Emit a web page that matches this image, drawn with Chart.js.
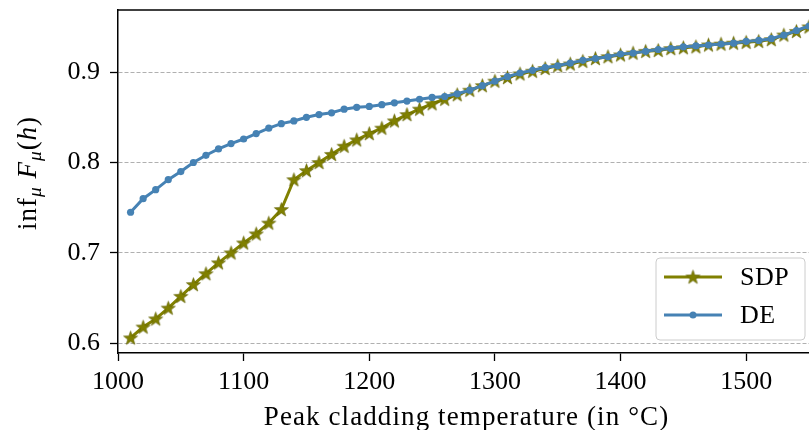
<!DOCTYPE html>
<html>
<head>
<meta charset="utf-8">
<script src="https://cdn.jsdelivr.net/npm/chart.js@4.4.1/dist/chart.umd.min.js"></script>
<style>
  html, body { margin: 0; padding: 0; background: #ffffff; }
  #wrap { width: 809px; height: 430px; position: relative; }
</style>
</head>
<body>
<div id="wrap"><canvas id="c" width="809" height="430"></canvas></div>
<script>
// ---- data ----
const temperatures = [1010, 1020, 1030, 1040, 1050, 1060, 1070, 1080, 1090, 1100,
  1110, 1120, 1130, 1140, 1150, 1160, 1170, 1180, 1190, 1200,
  1210, 1220, 1230, 1240, 1250, 1260, 1270, 1280, 1290, 1300,
  1310, 1320, 1330, 1340, 1350, 1360, 1370, 1380, 1390, 1400,
  1410, 1420, 1430, 1440, 1450, 1460, 1470, 1480, 1490, 1500,
  1510, 1520, 1530, 1540, 1550];

const sdpValues = [0.606, 0.618, 0.627, 0.639, 0.652, 0.665, 0.677, 0.689, 0.700, 0.711,
  0.721, 0.733, 0.748, 0.781, 0.791, 0.800, 0.809, 0.818, 0.825, 0.832,
  0.838, 0.846, 0.853, 0.859, 0.865, 0.870, 0.875, 0.880, 0.885, 0.890,
  0.894, 0.898, 0.901, 0.904, 0.907, 0.909, 0.912, 0.915, 0.917, 0.919,
  0.921, 0.923, 0.924, 0.926, 0.927, 0.928, 0.930, 0.931, 0.932, 0.933,
  0.934, 0.936, 0.941, 0.945, 0.950];

const deValues = [0.745, 0.760, 0.770, 0.781, 0.790, 0.800, 0.808, 0.815, 0.821, 0.826,
  0.832, 0.838, 0.843, 0.846, 0.850, 0.853, 0.855, 0.859, 0.861, 0.862,
  0.864, 0.866, 0.868, 0.870, 0.872, 0.873, 0.876, 0.880, 0.885, 0.890,
  0.895, 0.899, 0.902, 0.905, 0.907, 0.910, 0.913, 0.915, 0.917, 0.920,
  0.921, 0.923, 0.925, 0.926, 0.928, 0.929, 0.930, 0.931, 0.932, 0.934,
  0.935, 0.937, 0.941, 0.946, 0.951];

const xTickValues = [1000, 1100, 1200, 1300, 1400, 1500];
const yTickValues = [0.6, 0.7, 0.8, 0.9];
const seriesNames = ['SDP', 'DE'];
const xTitle = 'Peak cladding temperature (in \u00B0C)';

// ---- styles ----
const OLIVE = '#808000';
const BLUE = '#4682b4';
const FONT = "'Liberation Serif', 'DejaVu Serif', serif";
const FS = 26;
const TFS = 27;

function makeStar(outer, inner, fill, stroke) {
  const size = Math.ceil(outer * 2 + 2);
  const cv = document.createElement('canvas');
  cv.width = size; cv.height = size;
  const g = cv.getContext('2d');
  const cx = size / 2, cy = size / 2 + 0.5;
  g.beginPath();
  for (let i = 0; i < 10; i++) {
    const r = i % 2 === 0 ? outer : inner;
    const a = -Math.PI / 2 + i * Math.PI / 5;
    const px = cx + r * Math.cos(a), py = cy + r * Math.sin(a);
    if (i === 0) g.moveTo(px, py); else g.lineTo(px, py);
  }
  g.closePath();
  g.fillStyle = fill; g.fill();
  g.lineWidth = 0.6; g.strokeStyle = stroke; g.stroke();
  return cv;
}
const starImg = makeStar(7.4, 3.0, OLIVE, '#5e5e00');

function zeroPadding(s) {
  s.paddingTop = 0; s.paddingBottom = 0; s.paddingLeft = 0; s.paddingRight = 0;
}

const frameAndTitles = {
  id: 'frameAndTitles',
  afterDraw(chart) {
    const ctx = chart.ctx;
    const ca = chart.chartArea;
    ctx.save();
    // top frame line
    ctx.strokeStyle = '#000';
    ctx.lineWidth = 1.5;
    ctx.beginPath();
    ctx.moveTo(ca.left - 0.75, ca.top);
    ctx.lineTo(ca.right + 1, ca.top);
    ctx.stroke();

    // x title
    ctx.fillStyle = '#000';
    ctx.font = `${TFS}px ${FONT}`;
    ctx.letterSpacing = '1.1px';
    ctx.textAlign = 'center';
    ctx.textBaseline = 'alphabetic';
    ctx.fillText(xTitle, (ca.left + ca.right) / 2 + 3, 425);

    // y title: inf_mu F_mu(h)
    ctx.translate(36, 173);
    ctx.rotate(-Math.PI / 2);
    const parts = [
      { t: 'inf', f: `${TFS}px ${FONT}`, dy: 0 },
      { t: '\u03BC', f: `italic ${TFS * 0.72}px ${FONT}`, dy: 5 },
      { t: ' ', f: `${TFS}px ${FONT}`, dy: 0 },
      { t: 'F', f: `italic ${TFS}px ${FONT}`, dy: 0 },
      { t: '\u03BC', f: `italic ${TFS * 0.72}px ${FONT}`, dy: 5 },
      { t: '(', f: `${TFS}px ${FONT}`, dy: 0 },
      { t: 'h', f: `italic ${TFS}px ${FONT}`, dy: 0 },
      { t: ')', f: `${TFS}px ${FONT}`, dy: 0 }
    ];
    ctx.letterSpacing = '1px';
    let total = 0;
    parts.forEach(p => { ctx.font = p.f; p.w = ctx.measureText(p.t).width; total += p.w; });
    let x = -total / 2;
    ctx.textAlign = 'left';
    parts.forEach(p => { ctx.font = p.f; ctx.fillText(p.t, x, p.dy); x += p.w; });
    ctx.restore();

    // legend
    ctx.save();
    const bx = ca.right - 153, by = ca.bottom - 95, bw = 149, bh = 82;
    ctx.beginPath();
    ctx.roundRect(bx, by, bw, bh, 4);
    ctx.fillStyle = 'rgba(255,255,255,0.8)';
    ctx.fill();
    ctx.strokeStyle = '#cccccc';
    ctx.lineWidth = 1;
    ctx.stroke();
    const rows = [
      { name: seriesNames[0], color: OLIVE, y: by + 19, star: true },
      { name: seriesNames[1], color: BLUE, y: by + 57, star: false }
    ];
    rows.forEach(r => {
      ctx.strokeStyle = r.color;
      ctx.lineWidth = 3;
      ctx.beginPath();
      ctx.moveTo(bx + 8, r.y);
      ctx.lineTo(bx + 66, r.y);
      ctx.stroke();
      const mx = bx + 37;
      if (r.star) {
        ctx.drawImage(starImg, mx - starImg.width / 2, r.y - starImg.height / 2);
      } else {
        ctx.beginPath();
        ctx.arc(mx, r.y, 3.5, 0, Math.PI * 2);
        ctx.fillStyle = r.color;
        ctx.fill();
      }
      ctx.fillStyle = '#000';
      ctx.font = `${FS}px ${FONT}`;
      ctx.letterSpacing = '0.5px';
      ctx.textAlign = 'left';
      ctx.textBaseline = 'middle';
      ctx.fillText(r.name, bx + 84, r.y + 1);
    });
    ctx.restore();
  }
};

const chart = new Chart(document.getElementById('c'), {
  type: 'line',
  data: {
    datasets: [
      {
        label: seriesNames[0],
        data: temperatures.map((t, i) => ({ x: t, y: sdpValues[i] })),
        borderColor: OLIVE,
        backgroundColor: OLIVE,
        borderWidth: 3,
        pointStyle: starImg,
        pointRadius: 7,
        pointHoverRadius: 7,
        tension: 0,
        order: 2
      },
      {
        label: seriesNames[1],
        data: temperatures.map((t, i) => ({ x: t, y: deValues[i] })),
        borderColor: BLUE,
        backgroundColor: BLUE,
        borderWidth: 3,
        pointStyle: 'circle',
        pointRadius: 3.6,
        pointBorderWidth: 0,
        pointHoverRadius: 3.6,
        tension: 0,
        order: 1
      }
    ]
  },
  options: {
    responsive: false,
    animation: false,
    devicePixelRatio: 1,
    layout: { autoPadding: false, padding: { top: 10, right: 0, left: 0, bottom: 0 } },
    plugins: {
      legend: { display: false },
      tooltip: { enabled: false }
    },
    scales: {
      x: {
        type: 'linear',
        min: 1000,
        max: 1550,
        afterBuildTicks: s => { s.ticks = xTickValues.map(v => ({ value: v })); },
        afterFit: s => { s.height = 77; zeroPadding(s); },
        ticks: {
          color: '#000',
          font: { family: FONT, size: FS },
          padding: 6,
          maxRotation: 0,
          callback: v => String(v)
        },
        grid: {
          drawOnChartArea: false,
          drawTicks: true,
          tickLength: 8,
          tickColor: '#000',
          tickWidth: 1.3
        },
        border: { display: true, color: '#000', width: 1.5 },
        title: { display: false }
      },
      y: {
        type: 'linear',
        min: 0.5893,
        max: 0.9687,
        afterBuildTicks: s => { s.ticks = yTickValues.map(v => ({ value: v })); },
        afterFit: s => { s.width = 118; zeroPadding(s); },
        ticks: {
          color: '#000',
          font: { family: FONT, size: FS },
          padding: 10,
          callback: v => Number(v).toFixed(1)
        },
        grid: {
          drawOnChartArea: true,
          color: '#b0b0b0',
          lineWidth: 1,
          drawTicks: true,
          tickLength: 8,
          tickColor: '#000',
          tickWidth: 1.3,
          tickBorderDash: []
        },
        border: { display: true, color: '#000', width: 1.5, dash: [4, 2] }
      }
    }
  },
  plugins: [frameAndTitles]
});
</script>
</body>
</html>
